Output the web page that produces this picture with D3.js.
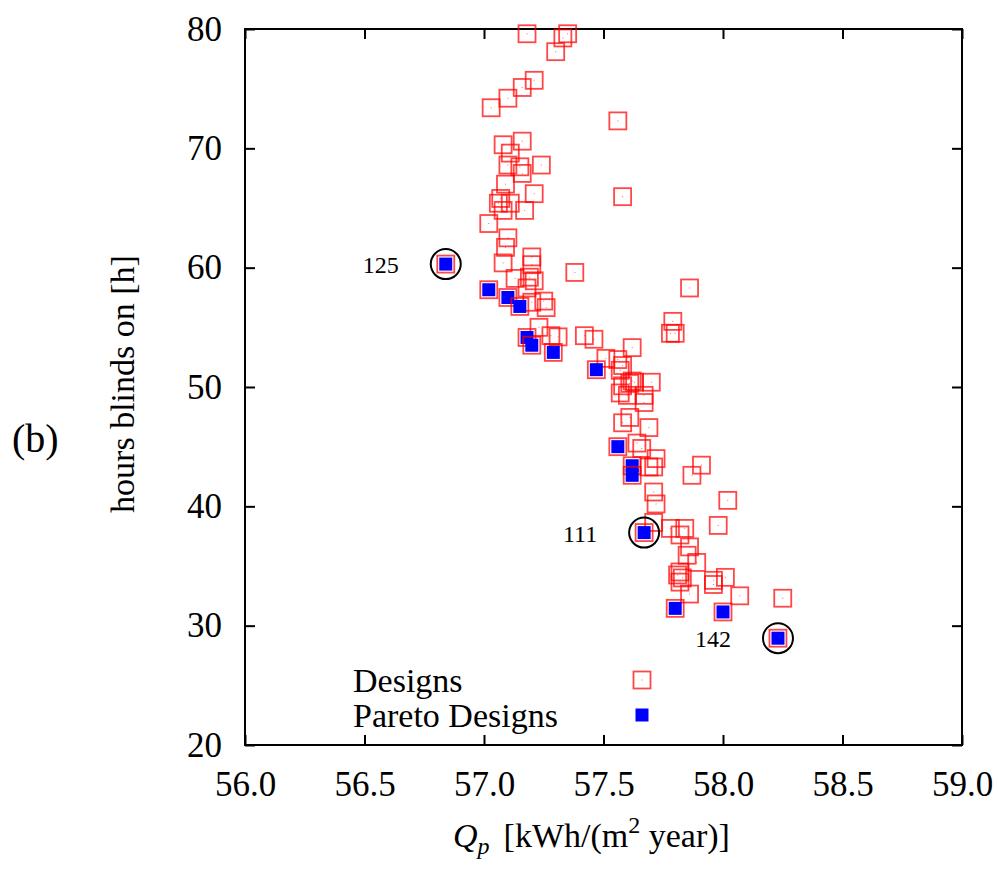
<!DOCTYPE html>
<html>
<head>
<meta charset="utf-8">
<script src="https://cdn.jsdelivr.net/npm/d3@7"></script>
<style>
  body { margin: 0; background: #fff; }
  text { font-family: "Liberation Serif", "Times New Roman", serif; fill: #000; }
</style>
</head>
<body>
<div id="chart"></div>
<script>
// all designs (Qp in kWh/(m2 year), hours blinds on)
var designQp = [57.18, 57.35, 57.33, 57.30, 57.21, 57.16, 57.10, 57.03, 57.56, 57.08,
  57.16, 57.11, 57.10, 57.15, 57.16, 57.24, 57.09, 57.21, 57.58, 57.07,
  57.06, 57.11, 57.17, 57.08, 57.02, 57.10, 57.09, 57.08, 57.20, 57.20,
  57.38, 57.13, 57.19, 57.21, 57.18, 57.25, 57.26, 57.20, 57.23, 57.28,
  57.31, 57.42, 57.46, 57.51, 57.56, 57.58, 57.62, 57.79, 57.78, 57.80,
  57.57, 57.62, 57.70, 57.58, 57.61, 57.63, 57.57, 57.60, 57.67, 57.67,
  57.61, 57.58, 57.69, 57.64, 57.66, 57.72, 57.69, 57.71, 57.91, 57.87,
  57.71, 57.72, 58.02, 57.98, 57.71, 57.78, 57.84, 57.82, 57.86, 57.85,
  57.89, 57.82, 57.81, 57.83, 57.82, 57.96, 57.96, 58.01, 57.86, 58.07,
  58.25, 57.86];
var designHours = [79.6, 79.6, 79.25, 78.1, 75.7, 75.1, 74.2, 73.4, 72.3, 70.3,
  70.6, 69.6, 68.6, 68.45, 67.9, 68.6, 67.0, 66.2, 65.95, 65.8,
  65.4, 65.4, 64.8, 64.8, 63.7, 62.5, 61.7, 60.4, 60.9, 60.25,
  59.6, 59.1, 59.2, 58.9, 58.3, 57.2, 56.65, 57.1, 55.0, 54.3,
  54.2, 54.3, 54.0, 52.4, 52.3, 51.8, 53.3, 55.5, 54.5, 54.5,
  51.4, 50.5, 50.4, 50.1, 50.3, 50.4, 49.5, 49.3, 49.3, 48.7,
  47.45, 47.0, 46.6, 45.3, 44.85, 44.0, 43.3, 43.3, 43.45, 42.6,
  41.2, 40.2, 40.5, 38.4, 38.65, 38.15, 38.15, 37.6, 36.6, 35.9,
  35.3, 34.5, 34.25, 34.0, 33.65, 33.8, 33.45, 34.05, 32.65, 32.5,
  32.3, 58.3];

// pareto designs
var paretoQp = [56.84, 57.02, 57.10, 57.15, 57.18, 57.20, 57.29, 57.47, 57.56, 57.62,
  57.62, 57.67, 57.80, 58.00, 58.23];
var paretoHours = [60.3, 58.15, 57.5, 56.75, 54.15, 53.5, 52.9, 51.45, 45.0, 43.4,
  42.6, 37.8, 31.45, 31.15, 28.95];

// highlighted designs
var labelIds = ["125", "111", "142"];
var labelQp = [56.84, 57.67, 58.23];
var labelHours = [60.3, 37.8, 28.95];

var xTicks = [56.0, 56.5, 57.0, 57.5, 58.0, 58.5, 59.0];
var yTicks = [20, 30, 40, 50, 60, 70, 80];

var W = 998, H = 869;
var mLeft = 245, mRight = 962, mTop = 29, mBottom = 745;

var svg = d3.select('#chart').append('svg')
    .attr('width', W)
    .attr('height', H);

var x = d3.scaleLinear().domain([56, 59]).range([mLeft, mRight]);
var y = d3.scaleLinear().domain([20, 80]).range([mBottom, mTop]);

// axes, ticks pointing inwards on all four sides
function styleAxis(g) {
    g.select('.domain').remove();
    g.selectAll('.tick line').attr('stroke', '#000').attr('stroke-width', 2);
    g.selectAll('.tick text').style('font-size', '35px')
        .style('font-family', '"Liberation Serif", "Times New Roman", serif');
}

svg.append('g')
    .attr('transform', 'translate(0,' + mBottom + ')')
    .call(d3.axisBottom(x).tickValues(xTicks).tickFormat(d3.format('.1f'))
        .tickSizeInner(-10).tickSizeOuter(0).tickPadding(26))
    .call(styleAxis);

svg.append('g')
    .attr('transform', 'translate(0,' + mTop + ')')
    .call(d3.axisTop(x).tickValues(xTicks).tickFormat('')
        .tickSizeInner(-10).tickSizeOuter(0))
    .call(styleAxis);

svg.append('g')
    .attr('transform', 'translate(' + mLeft + ',0)')
    .call(d3.axisLeft(y).tickValues(yTicks).tickFormat(d3.format('d'))
        .tickSizeInner(-10).tickSizeOuter(0).tickPadding(23))
    .call(styleAxis);

svg.append('g')
    .attr('transform', 'translate(' + mRight + ',0)')
    .call(d3.axisRight(y).tickValues(yTicks).tickFormat('')
        .tickSizeInner(-10).tickSizeOuter(0))
    .call(styleAxis);

svg.append('rect')
    .attr('x', mLeft).attr('y', mTop)
    .attr('width', mRight - mLeft).attr('height', mBottom - mTop)
    .attr('fill', 'none')
    .attr('stroke', '#000')
    .attr('stroke-width', 2);

// axis titles
svg.append('text')
    .attr('transform', 'translate(134,384) rotate(-90)')
    .attr('text-anchor', 'middle')
    .style('font-size', '34px')
    .text('hours blinds on [h]');

var xt = svg.append('text')
    .attr('x', 453).attr('y', 847)
    .style('font-size', '34px');
xt.append('tspan').style('font-style', 'italic').text('Q');
xt.append('tspan').style('font-style', 'italic').style('font-size', '24px')
    .attr('dy', 7).text('p');
xt.append('tspan').attr('dy', -7).attr('dx', 14).text('[kWh/(m');
xt.append('tspan').style('font-size', '24px').attr('dy', -14).text('2');
xt.append('tspan').attr('dy', 14).text(' year)]');

svg.append('text')
    .attr('x', 12).attr('y', 452)
    .style('font-size', '40px')
    .text('(b)');

var sq = 17, sqIn = 13;

function designMark(sel) {
    sel.append('rect')
        .attr('x', -sq / 2).attr('y', -sq / 2)
        .attr('width', sq).attr('height', sq)
        .attr('fill', 'none')
        .attr('stroke', '#ff0000')
        .attr('stroke-opacity', 0.72)
        .attr('stroke-width', 1.8);
    sel.append('rect')
        .attr('x', -0.5).attr('y', -0.5)
        .attr('width', 1).attr('height', 1)
        .attr('fill', '#ff0000')
        .attr('fill-opacity', 0.6);
}

function paretoMark(sel) {
    designMark(sel);
    sel.append('rect')
        .attr('x', -sqIn / 2).attr('y', -sqIn / 2)
        .attr('width', sqIn).attr('height', sqIn)
        .attr('fill', '#0000ff');
}

svg.append('g').selectAll('g')
    .data(d3.range(designQp.length))
    .enter().append('g')
    .attr('transform', function (i) {
        return 'translate(' + x(designQp[i]) + ',' + y(designHours[i]) + ')';
    })
    .call(designMark);

svg.append('g').selectAll('g')
    .data(d3.range(paretoQp.length))
    .enter().append('g')
    .attr('transform', function (i) {
        return 'translate(' + x(paretoQp[i]) + ',' + y(paretoHours[i]) + ')';
    })
    .call(paretoMark);

// circled designs with their numbers
var lab = svg.append('g').selectAll('g')
    .data(d3.range(labelIds.length))
    .enter().append('g')
    .attr('transform', function (i) {
        return 'translate(' + x(labelQp[i]) + ',' + y(labelHours[i]) + ')';
    });
lab.append('circle')
    .attr('r', 15)
    .attr('fill', 'none')
    .attr('stroke', '#000')
    .attr('stroke-width', 2);
lab.append('text')
    .attr('x', -47).attr('y', 9)
    .attr('text-anchor', 'end')
    .style('font-size', '24px')
    .text(function (i) { return labelIds[i]; });

// legend
var legendNames = ['Designs', 'Pareto Designs'];
var leg = svg.append('g').selectAll('g')
    .data(legendNames)
    .enter().append('g')
    .attr('transform', function (d, i) { return 'translate(0,' + (692 + i * 35) + ')'; });
leg.append('text')
    .attr('x', 353)
    .style('font-size', '34px')
    .text(function (d) { return d; });
leg.each(function (d, i) {
    var g = d3.select(this).append('g').attr('transform', 'translate(642,-12)');
    if (i === 0) designMark(g);
    else g.append('rect')
        .attr('x', -sqIn / 2).attr('y', -sqIn / 2)
        .attr('width', sqIn).attr('height', sqIn)
        .attr('fill', '#0000ff');
});
</script>
</body>
</html>
